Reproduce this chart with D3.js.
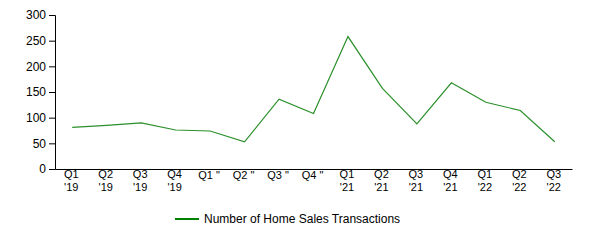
<!DOCTYPE html>
<html>
<head>
<meta charset="utf-8">
<script src="https://cdn.jsdelivr.net/npm/d3@7"></script>
<style>
  body { margin: 0; background: #fff; }
  text { font-family: Arial, "Liberation Sans", sans-serif; }
</style>
</head>
<body>
<div id="chart"></div>
<script>
// quarters along the x axis, with the label lines drawn under each tick
const quarters = ["Q1 2019", "Q2 2019", "Q3 2019", "Q4 2019", "Q1 2020", "Q2 2020", "Q3 2020", "Q4 2020",
  "Q1 2021", "Q2 2021", "Q3 2021", "Q4 2021", "Q1 2022", "Q2 2022", "Q3 2022"];
const tickLabels = [["Q1", "'19"], ["Q2", "'19"], ["Q3", "'19"], ["Q4", "'19"],
  ["Q1 \""], ["Q2 \""], ["Q3 \""], ["Q4 \""],
  ["Q1", "'21"], ["Q2", "'21"], ["Q3", "'21"], ["Q4", "'21"],
  ["Q1", "'22"], ["Q2", "'22"], ["Q3", "'22"]];
const transactions = [81, 85, 90, 76, 74, 53, 136, 108, 258, 157, 88, 168, 130, 114, 53];
const yTicks = [0, 50, 100, 150, 200, 250, 300];
const seriesName = "Number of Home Sales Transactions";

const WIDTH = 590, HEIGHT = 240;
let margin = {top: 15, right: 18, bottom: 71, left: 55};
let width = WIDTH - margin.left - margin.right;
let height = HEIGHT - margin.top - margin.bottom;

let svg = d3.select("#chart").append("svg")
    .attr("width", WIDTH)
    .attr("height", HEIGHT);
let g = svg.append("g")
    .attr("transform", "translate(" + margin.left + "," + margin.top + ")");

let xScale = d3.scaleBand().domain(quarters).range([0, width]);
let yScale = d3.scaleLinear().domain([0, 300]).range([height, 0]);
let xMap = function(d, i) { return xScale(quarters[i]) + xScale.bandwidth() / 2; };

// x axis, labels split on two lines
let xAxis = g.append("g")
    .attr("transform", "translate(0," + height + ")")
    .call(d3.axisBottom(xScale).tickSize(0).tickPadding(1)
      .tickFormat(function(d, i) { return ""; }));
xAxis.attr("font-family", null);
xAxis.select(".domain").attr("stroke", "#000");
xAxis.selectAll(".tick text").each(function(d, i) {
  let t = d3.select(this);
  tickLabels[i].forEach(function(line, k) {
    t.append("tspan")
      .attr("x", -1)
      .attr("dy", k == 0 ? (tickLabels[i].length == 1 ? "0.85em" : "0.75em") : "1.2em")
      .text(line);
  });
}).attr("dy", null).attr("font-size", 11).attr("fill", "#000");

// y axis
let yAxis = g.append("g")
    .call(d3.axisLeft(yScale).tickValues(yTicks).tickSize(6).tickPadding(3));
yAxis.attr("font-family", null);
yAxis.selectAll("text").attr("font-size", 12).attr("fill", "#000");
yAxis.selectAll("line, path").attr("stroke", "#000");

// the line
let line = d3.line()
    .x(xMap)
    .y(function(d) { return yScale(d); });
g.append("path")
    .datum(transactions)
    .attr("fill", "none")
    .attr("stroke", "#2a8f2a")
    .attr("stroke-width", 1.2)
    .attr("d", line);

// legend
let legend = svg.append("g").attr("transform", "translate(175,219)");
legend.append("line")
    .attr("x1", 0).attr("x2", 24)
    .attr("stroke", "green")
    .attr("stroke-width", 2);
legend.append("text")
    .attr("x", 29)
    .attr("dy", "0.35em")
    .attr("font-size", 12)
    .attr("fill", "#000")
    .text(seriesName);
</script>
</body>
</html>
